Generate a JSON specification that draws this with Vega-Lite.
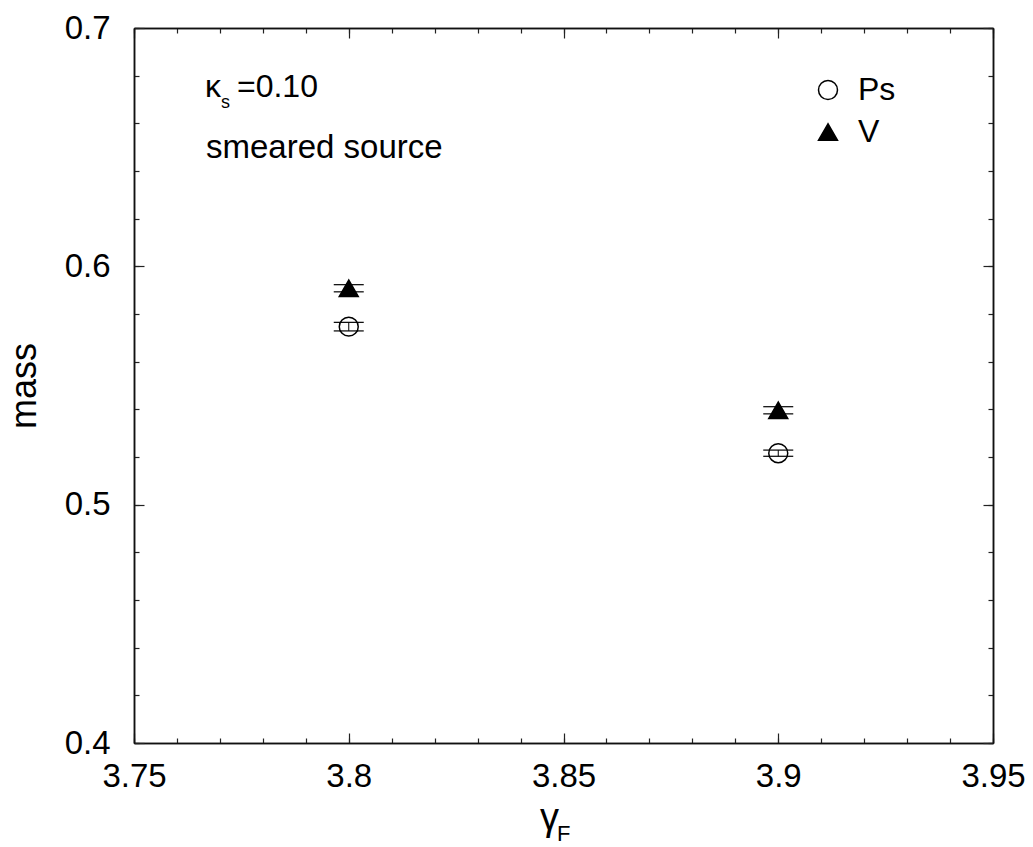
{
  "$schema": "https://vega.github.io/schema/vega-lite/v6.json",
  "width": 859,
  "height": 715,
  "autosize": "none",
  "padding": {"left": 134, "top": 28, "right": 40, "bottom": 104},
  "background": "white",
  "config": {
    "font": "Liberation Sans",
    "view": {"stroke": null},
    "axis": {
      "grid": false,
      "domainColor": "#111111",
      "domainWidth": 1.5,
      "tickColor": "#222222",
      "tickWidth": 1.2,
      "labelColor": "#000000",
      "titleColor": "#000000",
      "labelFont": "Liberation Sans",
      "titleFont": "Liberation Sans",
      "titleFontWeight": "normal",
      "labelFontSize": 33,
      "labelOverlap": false,
      "labelFlush": false,
      "labelBound": false
    }
  },
  "datasets": {
    "pts": [
      {"gamma": 3.8, "series": "Ps", "mass": 0.5747, "lo": 0.5729, "hi": 0.5765},
      {"gamma": 3.8, "series": "V", "mass": 0.5908, "lo": 0.5893, "hi": 0.5923},
      {"gamma": 3.9, "series": "Ps", "mass": 0.5216, "lo": 0.5203, "hi": 0.5229},
      {"gamma": 3.9, "series": "V", "mass": 0.5396, "lo": 0.5381, "hi": 0.5411}
    ],
    "one": [{"k": 1}]
  },
  "resolve": {"axis": {"x": "independent", "y": "independent"}},
  "layer": [
    {
      "data": {"name": "pts"},
      "mark": {"type": "rule", "color": "black", "strokeWidth": 1},
      "encoding": {
        "x": {
          "field": "gamma", "type": "quantitative",
          "scale": {"domain": [3.75, 3.95], "nice": false, "zero": false},
          "axis": {
            "orient": "bottom", "values": [3.75, 3.8, 3.85, 3.9, 3.95], "format": "~g",
            "tickSize": -10, "labelPadding": 27,
            "title": "γ", "titleFontSize": 38, "titleX": 415, "titleY": 86,
            "titleBaseline": "alphabetic", "titleAlign": "center", "titleAngle": 0
          }
        },
        "y": {
          "field": "lo", "type": "quantitative",
          "scale": {"domain": [0.4, 0.7], "nice": false, "zero": false},
          "axis": {
            "orient": "left", "values": [0.4, 0.5, 0.6, 0.7], "format": "~g",
            "tickSize": -10, "labelPadding": 34,
            "title": "mass", "titleFontSize": 36, "titleAngle": 270,
            "titleX": -99, "titleY": 357.5, "titleAlign": "center", "titleBaseline": "alphabetic"
          }
        },
        "y2": {"field": "hi"}
      }
    },
    {
      "data": {"name": "pts"},
      "mark": {"type": "tick", "orient": "horizontal", "size": 30, "thickness": 1.2, "color": "black", "opacity": 1},
      "encoding": {
        "x": {
          "field": "gamma", "type": "quantitative",
          "scale": {"domain": [3.75, 3.95], "nice": false, "zero": false},
          "axis": {
            "orient": "bottom",
            "values": [3.75, 3.76, 3.77, 3.78, 3.79, 3.8, 3.81, 3.82, 3.83, 3.84, 3.85, 3.86, 3.87, 3.88, 3.89, 3.9, 3.91, 3.92, 3.93, 3.94, 3.95],
            "labels": false, "tickSize": -5, "title": null
          }
        },
        "y": {
          "field": "lo", "type": "quantitative",
          "scale": {"domain": [0.4, 0.7], "nice": false, "zero": false},
          "axis": {
            "orient": "left",
            "values": [0.4, 0.42, 0.44, 0.46, 0.48, 0.5, 0.52, 0.54, 0.56, 0.58, 0.6, 0.62, 0.64, 0.66, 0.68, 0.7],
            "labels": false, "tickSize": -5, "title": null
          }
        }
      }
    },
    {
      "data": {"name": "pts"},
      "mark": {"type": "tick", "orient": "horizontal", "size": 30, "thickness": 1.2, "color": "black", "opacity": 1},
      "encoding": {
        "x": {
          "field": "gamma", "type": "quantitative",
          "scale": {"domain": [3.75, 3.95], "nice": false, "zero": false},
          "axis": {"orient": "top", "values": [3.75, 3.8, 3.85, 3.9, 3.95], "labels": false, "tickSize": -10, "title": null}
        },
        "y": {
          "field": "hi", "type": "quantitative",
          "scale": {"domain": [0.4, 0.7], "nice": false, "zero": false},
          "axis": {"orient": "right", "values": [0.4, 0.5, 0.6, 0.7], "labels": false, "tickSize": -10, "title": null}
        }
      }
    },
    {
      "data": {"name": "pts"},
      "mark": {"type": "point", "filled": true, "size": 360, "stroke": "black", "strokeWidth": 1.5, "opacity": 1},
      "encoding": {
        "x": {
          "field": "gamma", "type": "quantitative",
          "scale": {"domain": [3.75, 3.95], "nice": false, "zero": false},
          "axis": {
            "orient": "top",
            "values": [3.75, 3.76, 3.77, 3.78, 3.79, 3.8, 3.81, 3.82, 3.83, 3.84, 3.85, 3.86, 3.87, 3.88, 3.89, 3.9, 3.91, 3.92, 3.93, 3.94, 3.95],
            "labels": false, "tickSize": -5, "title": null
          }
        },
        "y": {
          "field": "mass", "type": "quantitative",
          "scale": {"domain": [0.4, 0.7], "nice": false, "zero": false},
          "axis": {
            "orient": "right",
            "values": [0.4, 0.42, 0.44, 0.46, 0.48, 0.5, 0.52, 0.54, 0.56, 0.58, 0.6, 0.62, 0.64, 0.66, 0.68, 0.7],
            "labels": false, "tickSize": -5, "title": null
          }
        },
        "shape": {
          "field": "series", "type": "nominal",
          "scale": {"domain": ["Ps", "V"], "range": ["circle", "triangle-up"]},
          "legend": {"orient": "none", "legendX": 678, "legendY": 46, "title": null, "labelFontSize": 32, "labelFont": "Liberation Sans", "labelColor": "black", "symbolSize": 360, "labelOffset": 14, "rowPadding": 10, "padding": 0,
            "encode": {"symbols": {"update": {"stroke": {"value": "black"}, "strokeWidth": {"value": 1.5}}}}}
        },
        "fill": {
          "field": "series", "type": "nominal",
          "scale": {"domain": ["Ps", "V"], "range": ["transparent", "black"]},
          "legend": {"orient": "none", "legendX": 678, "legendY": 46, "title": null, "labelFontSize": 32, "labelFont": "Liberation Sans", "labelColor": "black", "symbolSize": 360, "labelOffset": 14, "rowPadding": 10, "padding": 0,
            "encode": {"symbols": {"update": {"stroke": {"value": "black"}, "strokeWidth": {"value": 1.5}}}}}
        }
      }
    },
    {
      "data": {"name": "one"},
      "mark": {"type": "text", "text": "κ", "fontSize": 32, "align": "left", "baseline": "alphabetic", "color": "black"},
      "encoding": {
        "x": {"datum": 3.76653, "type": "quantitative", "axis": null},
        "y": {"datum": 0.67105, "type": "quantitative", "axis": null}
      }
    },
    {
      "data": {"name": "one"},
      "mark": {"type": "text", "text": "s", "fontSize": 18, "align": "left", "baseline": "alphabetic", "color": "black"},
      "encoding": {
        "x": {"datum": 3.77026, "type": "quantitative", "axis": null},
        "y": {"datum": 0.66643, "type": "quantitative", "axis": null}
      }
    },
    {
      "data": {"name": "one"},
      "mark": {"type": "text", "text": "=0.10", "fontSize": 32, "align": "left", "baseline": "alphabetic", "color": "black"},
      "encoding": {
        "x": {"datum": 3.77398, "type": "quantitative", "axis": null},
        "y": {"datum": 0.67105, "type": "quantitative", "axis": null}
      }
    },
    {
      "data": {"name": "one"},
      "mark": {"type": "text", "text": "smeared source", "fontSize": 33, "align": "left", "baseline": "alphabetic", "color": "black"},
      "encoding": {
        "x": {"datum": 3.76676, "type": "quantitative", "axis": null},
        "y": {"datum": 0.64545, "type": "quantitative", "axis": null}
      }
    },
    {
      "data": {"name": "one"},
      "mark": {"type": "text", "text": "F", "fontSize": 22, "align": "left", "baseline": "alphabetic", "color": "black"},
      "encoding": {
        "x": {"datum": 3.84849, "type": "quantitative", "axis": null},
        "y": {"datum": 0.35888, "type": "quantitative", "axis": null}
      }
    }
  ]
}
